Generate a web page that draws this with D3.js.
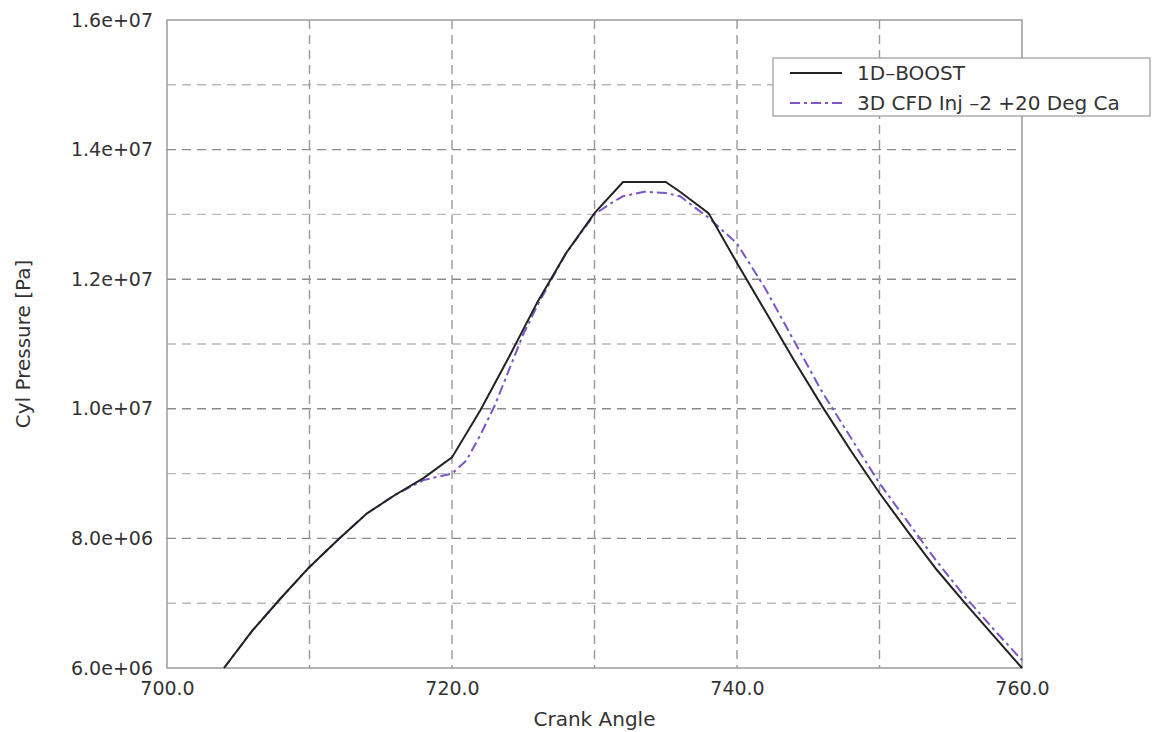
<!DOCTYPE html>
<meta charset="utf-8">
<style>
  body { margin: 0; background: #fff; }
  text { font-family: "DejaVu Sans", sans-serif; fill: #333; }
  .tick text { font-size: 19px; }
  .grid line { stroke-dasharray: 9,6; }
</style>
<svg width="1153" height="732"></svg>
<script src="https://d3js.org/d3.v7.min.js"></script>
<script>
  // crank angle (deg) / cylinder pressure (Pa)
  var boostAngle = [704, 706, 708, 710, 712, 714, 716, 718, 720, 722, 724, 726, 728, 730, 732, 735, 736, 738, 740, 742, 744, 746, 748, 750, 752, 754, 756, 758, 760];
  var boostPressure = [6.0e6, 6.58e6, 7.08e6, 7.56e6, 7.98e6, 8.38e6, 8.67e6, 8.93e6, 9.25e6, 9.98e6, 10.8e6, 11.65e6, 12.4e6, 13.02e6, 13.5e6, 13.5e6, 13.35e6, 13.02e6, 12.25e6, 11.5e6, 10.75e6, 10.03e6, 9.35e6, 8.7e6, 8.1e6, 7.52e6, 7.0e6, 6.5e6, 6.0e6];

  var cfdAngle = [704, 706, 708, 710, 712, 714, 716, 718, 720, 721, 722, 723, 724, 725, 726, 728, 730, 731, 732, 733.5, 735, 736, 738, 740, 742, 744, 746, 748, 750, 752, 754, 756, 758, 760];
  var cfdPressure = [6.0e6, 6.58e6, 7.08e6, 7.56e6, 7.98e6, 8.38e6, 8.67e6, 8.9e6, 9.0e6, 9.2e6, 9.6e6, 10.05e6, 10.6e6, 11.15e6, 11.6e6, 12.4e6, 13.0e6, 13.15e6, 13.28e6, 13.35e6, 13.33e6, 13.28e6, 12.95e6, 12.55e6, 11.85e6, 11.05e6, 10.25e6, 9.55e6, 8.85e6, 8.25e6, 7.65e6, 7.1e6, 6.6e6, 6.12e6];

  var xTicks = [700, 720, 740, 760];
  var yTicks = [6e6, 8e6, 1e7, 1.2e7, 1.4e7, 1.6e7];
  var seriesNames = ["1D\u2013BOOST", "3D CFD Inj \u20132 +20 Deg Ca"];

  var svg = d3.select("svg");
  var pLeft = 167, pRight = 1022, pTop = 20, pBottom = 668;

  var x = d3.scaleLinear().domain([700, 760]).range([pLeft, pRight]);
  var y = d3.scaleLinear().domain([6e6, 1.6e7]).range([pBottom, pTop]);

  // grid
  var grid = svg.append("g").attr("class", "grid");
  grid.selectAll(".hg")
    .data(d3.range(7e6, 1.6e7, 1e6))
    .enter().append("line")
    .attr("x1", pLeft).attr("x2", pRight)
    .attr("y1", function(d) { return y(d); })
    .attr("y2", function(d) { return y(d); })
    .attr("stroke", function(d) { return yTicks.indexOf(d) >= 0 ? "#8a8a8a" : "#b8b8b8"; })
    .attr("stroke-width", 1.4);
  grid.selectAll(".vg")
    .data(d3.range(710, 760, 10))
    .enter().append("line")
    .attr("y1", pTop).attr("y2", pBottom)
    .attr("x1", function(d) { return x(d); })
    .attr("x2", function(d) { return x(d); })
    .attr("stroke", "#999")
    .attr("stroke-width", 1.4);

  // frame
  svg.append("rect")
    .attr("x", pLeft).attr("y", pTop)
    .attr("width", pRight - pLeft).attr("height", pBottom - pTop)
    .attr("fill", "none").attr("stroke", "#9a9a9a").attr("stroke-width", 1.5);

  // axes
  svg.append("g")
    .attr("transform", "translate(0," + pBottom + ")")
    .call(d3.axisBottom(x).tickValues(xTicks).tickSize(0).tickPadding(14).tickFormat(d3.format(".1f")));
  svg.append("g")
    .attr("transform", "translate(" + pLeft + ",0)")
    .call(d3.axisLeft(y).tickValues(yTicks).tickSize(0).tickPadding(14)
      .tickFormat(function(d) { return d3.format(".1e")(d).replace(/e([+-])(\d)$/, "e$10$2"); }));
  svg.selectAll(".domain").remove();

  // lines
  var line = d3.line()
    .x(function(d) { return x(d[0]); })
    .y(function(d) { return y(d[1]); });

  svg.append("path")
    .datum(d3.zip(cfdAngle, cfdPressure))
    .attr("d", line)
    .attr("fill", "none")
    .attr("stroke", "#7b55c9")
    .attr("stroke-width", 2)
    .attr("stroke-dasharray", "10,4,3,4");

  svg.append("path")
    .datum(d3.zip(boostAngle, boostPressure))
    .attr("d", line)
    .attr("fill", "none")
    .attr("stroke", "#222")
    .attr("stroke-width", 2);

  // axis titles
  svg.append("text")
    .attr("x", (pLeft + pRight) / 2).attr("y", 726)
    .attr("text-anchor", "middle")
    .style("font-size", "20px")
    .text("Crank Angle");
  svg.append("text")
    .attr("transform", "translate(30," + ((pTop + pBottom) / 2) + ") rotate(-90)")
    .attr("text-anchor", "middle")
    .style("font-size", "20px")
    .text("Cyl Pressure [Pa]");

  // legend
  var legend = svg.append("g");
  legend.append("rect")
    .attr("x", 773).attr("y", 58).attr("width", 377).attr("height", 58)
    .attr("fill", "#fff").attr("stroke", "#999").attr("stroke-width", 1.2);
  var item = legend.selectAll(".item")
    .data(seriesNames)
    .enter().append("g")
    .attr("transform", function(d, i) { return "translate(0," + (73 + i * 30) + ")"; });
  item.append("line")
    .attr("x1", 790).attr("x2", 842)
    .attr("stroke", function(d, i) { return i ? "#7b55c9" : "#222"; })
    .attr("stroke-width", 2)
    .attr("stroke-dasharray", function(d, i) { return i ? "10,4,3,4" : null; });
  item.append("text")
    .attr("x", 857).attr("dy", "0.36em")
    .style("font-size", "20px")
    .text(function(d) { return d; });
</script>
